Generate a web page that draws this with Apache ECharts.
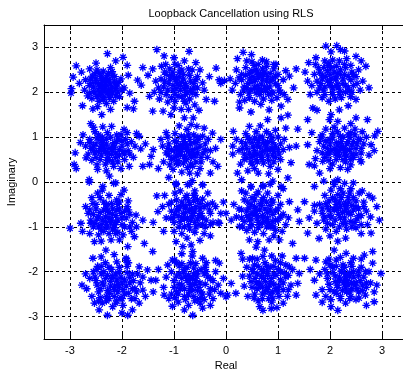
<!DOCTYPE html>
<html><head><meta charset="utf-8">
<script src="https://cdn.jsdelivr.net/npm/echarts@6/dist/echarts.min.js"></script>
<style>html,body{margin:0;padding:0;background:#fff}#c{width:403px;height:373px}</style>
</head><body><div id="c"></div>
<script>
var titleText = 'Loopback Cancellation using RLS';
var xName = 'Real';
var yName = 'Imaginary';
var xTicks = [-3,-2,-1,0,1,2,3];
var yTicks = [-3,-2,-1,0,1,2,3];

// Row 1 (Imag ~ +2.1)
var clA = [[-2.98,1.98],[-2.97,2.08],[-2.88,2.59],[-2.28,2.86],[-1.98,2.78],[-1.9,2.6],[-2.12,2.7],[-2.5,2.65],[-2.76,1.7],[-2.56,1.63],[-2.39,1.5],[-2.22,1.62],[-1.9,1.66],[-1.78,1.63],[-1.76,1.8],[-1.63,2.16],[-1.6,2.55],[-1.7,2.27],[-2.94,2.34],[-2.78,2.45],
[-2.6,2.3],[-2.52,2.41],[-2.45,2.18],[-2.38,2.05],[-2.31,2.22],[-2.25,1.95],[-2.2,2.12],[-2.14,2.35],[-2.08,2.01],[-2.35,1.88],[-2.42,1.95],[-2.55,2.02],[-2.63,2.15],[-2.7,2.28],[-2.66,1.92],[-2.48,2.5],[-2.36,2.47],[-2.28,2.38],[-2.19,2.46],[-2.1,2.2],[-2.02,2.3],[-1.96,2.1],[-2.05,1.9],[-2.16,1.8],[-2.3,1.75],[-2.44,1.8],[-2.58,1.86],[-2.72,2.05],[-2.4,2.3],[-2.33,2.13],[-2.26,2.04],[-2.5,2.22],[-2.57,2.36],[-2.12,2.08],[-1.88,2.38],[-1.85,1.98],[-2.22,2.55],[-2.62,2.52],[-2.82,2.2],[-2.47,1.68],
[-2.42,2.12],[-2.35,2.25],[-2.28,2.0],[-2.22,2.18],[-2.18,1.98],[-2.38,1.98],[-2.46,2.05],[-2.4,2.36],[-2.32,2.3],[-2.25,2.28],[-2.15,2.25],[-2.1,2.12],[-2.2,2.05],[-2.3,2.15],[-2.5,2.3],[-2.55,2.12],[-2.48,1.9],[-2.36,1.85],[-2.12,1.92],[-2.06,2.22],[-2.6,2.2],[-2.44,2.42],[-2.26,2.42],[-2.18,2.38],[-2.33,2.05],[-2.52,1.98],[-2.62,1.98],[-2.0,2.05],[-2.24,1.88],[-2.4,2.18]];
var clB = [[-1.33,2.95],[-0.71,2.91],[-1.19,2.81],[-1.0,2.77],[-0.58,2.66],[-0.19,2.54],[-1.41,2.52],[-1.5,2.38],[-1.47,1.91],[-1.41,1.58],[-1.21,1.58],[-1.06,1.5],[-0.8,1.43],[-0.67,1.28],[-0.63,1.43],[-0.38,1.84],[-0.22,1.8],[-0.45,2.21],[-0.77,1.76],[-0.1,2.2],
[-1.25,2.3],[-1.18,2.45],[-1.1,2.2],[-1.02,2.05],[-0.95,2.32],[-0.88,2.15],[-0.82,2.4],[-0.75,2.0],[-0.68,2.25],[-0.62,2.1],[-0.55,2.35],[-1.15,1.95],[-1.3,2.1],[-1.35,2.25],[-1.08,2.52],[-0.92,2.6],[-0.85,1.9],[-0.98,1.8],[-1.12,1.78],[-0.7,1.85],[-0.58,1.95],[-0.5,2.5],[-0.9,2.45],[-1.05,2.38],[-1.2,2.12],[-0.78,2.2],[-0.96,2.08],[-0.65,2.5],[-0.42,2.05],[-1.28,1.85],[-1.0,1.65],[-0.86,1.62],[-0.72,1.62],[-1.38,2.0],[-0.32,2.35],[-0.6,1.72],[-1.16,2.62],[-0.8,2.7],[-1.24,2.58],[-0.52,1.6],
[-1.02,2.15],[-0.95,2.25],[-0.88,2.05],[-0.82,2.3],[-0.75,2.12],[-1.08,2.3],[-1.12,2.05],[-0.98,1.95],[-0.9,2.35],[-0.78,1.95],[-0.7,2.38],[-0.62,2.2],[-1.18,2.25],[-1.02,2.45],[-0.85,2.5],[-0.72,2.52],[-0.92,1.92],[-1.05,1.88],[-0.65,1.98],[-0.58,2.28],[-1.25,2.0],[-0.8,2.08],[-0.94,2.18],[-0.86,2.22],[-1.0,2.32],[-0.68,2.05],[-1.15,2.4],[-0.55,2.1],[-0.8,1.8],[-0.98,2.62]];
var clC = [[0.33,2.89],[0.49,2.84],[0.22,2.75],[-0.13,2.28],[-0.03,2.26],[0.08,2.3],[1.35,2.52],[1.22,2.36],[1.15,2.48],[0.96,2.62],[0.78,2.68],[1.19,1.84],[1.06,1.69],[0.83,1.61],[0.67,1.73],[0.48,1.56],[0.26,1.65],[0.26,1.78],[1.3,2.1],[0.12,2.05],
[0.3,2.4],[0.38,2.55],[0.42,2.2],[0.48,2.05],[0.52,2.35],[0.58,2.5],[0.6,2.15],[0.65,1.95],[0.7,2.3],[0.75,2.45],[0.8,2.1],[0.85,2.25],[0.9,1.98],[0.95,2.35],[1.0,2.15],[1.05,2.0],[0.35,2.12],[0.28,1.95],[0.45,1.88],[0.55,1.8],[0.72,1.85],[0.88,1.82],[0.62,2.62],[0.5,2.68],[0.4,2.7],[0.2,2.5],[0.18,2.2],[0.68,2.05],[0.56,2.28],[0.78,2.58],[1.1,2.28],[0.92,2.52],[0.45,2.42],[0.62,2.4],[0.82,1.95],[0.36,1.82],[1.12,1.95],[0.25,2.32],[0.98,1.88],[0.7,2.72],
[0.5,2.22],[0.55,2.1],[0.62,2.32],[0.68,2.18],[0.72,2.4],[0.78,2.25],[0.84,2.12],[0.9,2.3],[0.58,1.98],[0.46,2.3],[0.4,2.1],[0.38,2.38],[0.7,2.52],[0.85,2.42],[0.95,2.2],[1.0,2.4],[0.76,2.02],[0.62,2.05],[0.5,2.48],[0.3,2.28],[0.88,2.0],[0.66,2.4],[0.54,2.6],[0.44,1.98],[0.8,2.35],[0.6,2.45],[1.02,2.05],[0.74,2.12],[0.34,2.05],[0.92,2.62]];
var clD = [[1.92,3.03],[2.13,3.04],[2.28,2.92],[2.5,2.8],[2.69,2.58],[1.73,2.77],[1.59,2.66],[1.57,2.25],[1.67,1.65],[1.75,1.6],[2.02,1.5],[2.18,1.61],[2.5,1.84],[2.63,2.25],[2.4,1.9],[2.2,2.95],[2.02,2.9],[2.75,2.1],[1.52,2.45],[2.35,1.7],
[1.7,2.4],[1.78,2.55],[1.82,2.2],[1.88,2.05],[1.92,2.35],[1.96,2.6],[2.0,2.15],[2.05,1.95],[2.08,2.45],[2.12,2.3],[2.16,2.1],[2.2,2.5],[2.25,2.2],[2.3,2.0],[2.35,2.35],[2.4,2.6],[2.45,2.15],[2.5,2.35],[1.75,2.0],[1.85,1.88],[1.98,1.8],[2.1,1.85],[2.22,1.88],[1.65,2.15],[1.72,2.62],[1.9,2.7],[2.05,2.72],[2.18,2.7],[2.32,2.75],[2.55,2.5],[2.58,2.05],[2.38,2.02],[2.02,2.3],[1.95,2.48],[2.28,2.4],[1.85,2.38],[2.12,2.58],[2.42,2.45],[1.62,1.95],[2.6,2.7],
[1.95,2.25],[2.0,2.4],[2.05,2.1],[2.1,2.32],[2.15,2.18],[2.2,2.4],[2.25,2.3],[2.3,2.15],[1.9,2.12],[1.85,2.3],[1.8,2.45],[1.88,2.55],[2.02,2.55],[2.15,2.42],[2.3,2.55],[2.4,2.28],[2.35,2.1],[2.2,2.02],[2.05,2.0],[1.9,1.95],[2.45,2.4],[1.75,2.25],[2.0,2.22],[2.12,2.15],[2.28,2.62],[1.98,2.65],[2.42,2.0],[2.18,1.95],[1.8,2.1],[2.52,2.2]];

// Row 2 (Imag ~ +0.7)
var clE = [[-2.6,1.3],[-2.37,1.23],[-2.2,1.24],[-1.96,1.17],[-1.93,0.95],[-1.67,1.02],[-1.64,0.74],[-1.86,0.35],[-1.47,0.39],[-1.6,0.35],[-2.9,0.65],[-2.92,0.39],[-2.88,0.3],[-2.69,0.54],[-2.47,0.28],[-2.24,0.13],[-2.63,0.05],[-2.37,-0.1],[-2.12,-0.02],[-1.55,0.85],
[-2.7,0.8],[-2.62,0.95],[-2.55,0.7],[-2.5,0.85],[-2.45,1.05],[-2.4,0.6],[-2.35,0.78],[-2.3,0.95],[-2.25,0.5],[-2.2,0.72],[-2.15,0.88],[-2.1,1.05],[-2.05,0.6],[-2.0,0.8],[-1.95,0.5],[-1.88,0.7],[-1.82,0.9],[-2.58,0.48],[-2.48,0.38],[-2.32,0.4],[-2.16,0.35],[-2.02,0.3],[-2.28,1.1],[-2.52,1.12],[-2.75,1.05],[-2.8,0.88],[-2.12,0.55],[-2.38,0.88],[-2.27,0.64],[-1.78,0.55],[-1.75,0.8],[-1.72,1.08],[-2.65,0.62],[-2.42,0.75],[-2.08,0.98],[-1.9,1.1],[-2.3,0.25],[-2.55,1.22],[-2.18,0.45],[-1.98,0.68],
[-2.35,0.7],[-2.3,0.85],[-2.25,0.75],[-2.2,0.62],[-2.15,0.78],[-2.1,0.9],[-2.05,0.72],[-2.4,0.92],[-2.45,0.68],[-2.5,0.55],[-2.42,0.5],[-2.28,0.55],[-2.12,0.65],[-2.0,0.92],[-1.95,0.62],[-2.55,0.8],[-2.6,0.75],[-2.38,1.0],[-2.22,1.0],[-2.08,0.45],[-1.9,0.85],[-2.32,0.68],[-2.18,0.82],[-2.48,0.98],[-2.62,0.88],[-2.28,0.48],[-1.85,0.62],[-2.52,0.65],[-2.02,1.05],[-2.4,0.8]];
var clF = [[-1.44,0.57],[-1.4,0.72],[-1.22,0.8],[-0.96,-0.06],[-0.74,-0.06],[-0.45,-0.06],[-0.65,0.03],[-0.26,1.09],[-0.42,1.2],[-0.75,1.17],[-0.56,1.24],[-0.16,0.35],[-0.25,0.45],[-1.3,0.3],[-1.15,1.1],[-0.9,1.25],[-1.1,0.1],[-0.2,0.75],[-0.3,0.2],[-1.25,0.95],
[-1.15,0.65],[-1.1,0.85],[-1.05,0.5],[-1.0,0.7],[-0.95,0.9],[-0.92,0.4],[-0.88,0.6],[-0.84,0.78],[-0.8,1.0],[-0.76,0.5],[-0.72,0.68],[-0.68,0.85],[-0.64,0.35],[-0.6,0.58],[-0.56,0.75],[-0.52,0.95],[-0.48,0.45],[-0.44,0.65],[-0.4,0.85],[-0.36,0.55],[-1.02,0.28],[-0.85,0.22],[-0.7,0.2],[-0.55,0.18],[-1.12,1.0],[-0.98,1.08],[-0.62,1.05],[-0.45,1.02],[-0.34,0.95],[-1.2,0.45],[-0.78,0.85],[-0.9,0.72],[-0.66,0.55],[-0.82,0.42],[-0.5,0.3],[-0.3,0.7],[-1.08,0.38],[-0.58,0.88],[-0.95,0.6],[-0.74,0.32],
[-0.9,0.65],[-0.85,0.72],[-0.8,0.58],[-0.75,0.8],[-0.7,0.62],[-0.65,0.72],[-0.6,0.9],[-0.95,0.78],[-1.0,0.55],[-0.92,0.48],[-0.82,0.9],[-0.7,0.95],[-0.55,0.65],[-0.5,0.8],[-0.58,0.45],[-0.68,0.4],[-0.88,0.82],[-1.05,0.72],[-1.1,0.6],[-0.78,0.52],[-0.62,0.62],[-0.48,0.55],[-0.98,0.92],[-0.86,1.02],[-0.72,1.05],[-0.4,0.72],[-1.12,0.75],[-0.76,0.72],[-0.54,1.0],[-0.95,0.42]];
var clG = [[0.14,1.13],[0.45,1.24],[0.8,1.39],[1.06,1.43],[1.19,1.49],[1.15,1.2],[1.38,1.18],[1.35,0.8],[1.22,0.77],[1.25,0.43],[1.19,0.09],[1.06,-0.1],[0.71,-0.08],[0.48,-0.11],[0.22,0.2],[0.13,0.8],[0.13,0.62],[-0.1,0.95],[0.3,0.05],[0.9,0.02],
[0.25,0.7],[0.3,0.9],[0.35,0.5],[0.4,0.75],[0.45,0.95],[0.5,0.4],[0.55,0.62],[0.6,0.82],[0.65,1.0],[0.7,0.5],[0.75,0.7],[0.8,0.9],[0.85,0.35],[0.9,0.6],[0.95,0.8],[1.0,1.0],[1.05,0.5],[1.1,0.72],[0.38,1.08],[0.58,1.12],[0.78,1.12],[0.95,1.15],[0.28,0.4],[0.42,0.25],[0.62,0.2],[0.82,0.18],[1.0,0.28],[1.12,0.95],[0.68,0.62],[0.52,0.78],[0.88,0.75],[0.72,0.88],[0.6,0.45],[0.35,0.62],[1.02,0.62],[0.2,0.95],[0.48,0.55],[0.92,0.45],[0.66,1.25],[0.55,0.3],
[0.55,0.7],[0.6,0.62],[0.65,0.78],[0.7,0.68],[0.75,0.85],[0.8,0.6],[0.85,0.72],[0.9,0.88],[0.5,0.88],[0.45,0.65],[0.4,0.55],[0.48,0.45],[0.58,0.5],[0.72,0.42],[0.82,0.48],[0.95,0.55],[1.0,0.72],[0.88,0.98],[0.7,1.0],[0.55,0.98],[0.38,0.85],[0.62,0.92],[0.78,0.78],[0.68,0.55],[1.05,0.85],[0.32,0.75],[0.92,0.68],[0.52,0.58],[0.85,1.05],[0.42,1.0]];
var clH = [[1.57,1.39],[1.57,0.83],[1.6,0.39],[1.7,0.36],[1.99,1.39],[2.15,1.35],[2.5,1.43],[2.72,1.39],[2.92,1.13],[2.86,1.03],[2.79,0.83],[2.6,0.45],[2.34,0.28],[2.15,0.05],[2.08,-0.06],[1.86,0.46],[1.65,1.1],[2.85,0.7],[1.8,0.2],[2.4,1.3],
[1.75,0.7],[1.8,0.9],[1.85,1.05],[1.9,0.55],[1.95,0.75],[2.0,0.95],[2.05,0.4],[2.1,0.62],[2.15,0.82],[2.2,1.02],[2.25,0.5],[2.3,0.7],[2.35,0.9],[2.4,1.1],[2.45,0.55],[2.5,0.75],[2.55,0.95],[2.6,0.65],[2.65,0.85],[1.92,1.18],[2.08,1.22],[2.28,1.2],[2.48,1.18],[2.62,1.12],[2.0,0.3],[2.2,0.32],[2.4,0.38],[2.7,1.0],[1.72,0.52],[2.12,0.72],[2.32,0.58],[2.22,0.9],[2.42,0.82],[1.98,0.62],[2.58,0.5],[2.75,0.6],[1.88,0.8],[2.18,0.58],[2.38,1.0],[2.05,1.08],
[2.08,0.75],[2.12,0.88],[2.18,0.7],[2.22,0.8],[2.28,0.62],[2.32,0.85],[2.38,0.72],[2.45,0.9],[2.0,0.85],[1.95,0.65],[1.92,0.92],[2.05,1.0],[2.25,1.0],[2.42,0.62],[2.5,0.62],[2.52,0.85],[2.3,0.45],[2.12,0.5],[1.98,0.48],[1.85,0.65],[2.6,0.75],[2.16,0.62],[2.35,1.05],[2.48,1.05],[2.02,0.7],[2.26,0.75],[1.82,1.0],[2.4,0.5],[2.58,0.95],[2.14,1.12]];

// Row 3 (Imag ~ -0.7)
var clI = [[-2.63,0.0],[-2.47,-0.25],[-2.38,-0.18],[-2.16,-0.03],[-1.96,-0.18],[-2.56,-0.48],[-2.79,-0.92],[-3.0,-1.03],[-2.76,-1.1],[-2.53,-1.33],[-2.31,-1.52],[-2.21,-1.29],[-2.05,-1.29],[-1.89,-1.44],[-1.92,-1.74],[-1.76,-1.22],[-1.57,-1.37],[-1.41,-1.55],[-1.6,-0.85],[-1.73,-0.74],
[-2.65,-0.7],[-2.6,-0.85],[-2.55,-1.0],[-2.5,-0.6],[-2.45,-0.78],[-2.4,-0.95],[-2.35,-1.1],[-2.3,-0.5],[-2.25,-0.68],[-2.2,-0.85],[-2.15,-1.02],[-2.1,-0.4],[-2.05,-0.6],[-2.0,-0.8],[-1.95,-1.0],[-1.9,-0.55],[-1.85,-0.72],[-1.8,-0.9],[-1.82,-1.1],[-2.42,-0.35],[-2.25,-0.3],[-2.02,-0.28],[-2.7,-0.55],[-2.45,-1.18],[-2.25,-1.15],[-2.08,-1.12],[-1.98,-1.18],[-2.35,-0.62],[-2.18,-0.72],[-2.32,-0.88],[-1.72,-1.0],[-2.58,-0.35],[-2.12,-0.9],[-2.28,-0.98],[-1.88,-0.42],[-2.52,-0.92],[-2.62,-1.15],[-2.4,-1.32],[-1.95,-0.65],[-2.08,-0.5],
[-2.32,-0.78],[-2.28,-0.65],[-2.22,-0.9],[-2.18,-0.6],[-2.12,-0.75],[-2.08,-0.85],[-2.02,-0.7],[-2.38,-0.85],[-2.42,-0.68],[-2.48,-0.82],[-2.4,-1.05],[-2.3,-1.0],[-2.15,-0.95],[-2.0,-0.95],[-1.92,-0.8],[-2.05,-0.45],[-2.2,-0.48],[-2.35,-0.45],[-2.5,-0.5],[-2.55,-0.72],[-1.88,-0.62],[-2.25,-0.8],[-2.1,-0.62],[-2.6,-0.92],[-2.45,-1.0],[-2.12,-1.15],[-1.85,-1.0],[-2.3,-0.58],[-2.62,-0.62],[-2.18,-1.05]];
var clJ = [[-1.33,-0.31],[-1.31,-0.66],[-0.96,-0.03],[-0.7,-0.05],[-0.45,-0.07],[-0.26,-0.47],[-1.06,-0.81],[-0.96,-1.33],[-0.83,-1.44],[-0.67,-1.4],[-0.64,-1.55],[-0.99,-1.74],[-0.75,-1.25],[-0.1,-0.7],[-0.15,-0.9],[-1.2,-1.1],[-0.3,-1.2],[-0.05,-0.45],[-1.4,-0.9],[-0.5,-1.3],
[-1.1,-0.5],[-1.05,-0.65],[-1.0,-0.9],[-0.95,-0.4],[-0.9,-0.6],[-0.85,-0.8],[-0.8,-1.0],[-0.75,-0.3],[-0.7,-0.5],[-0.65,-0.7],[-0.6,-0.9],[-0.55,-0.4],[-0.5,-0.6],[-0.45,-0.8],[-0.4,-1.0],[-0.35,-0.5],[-0.3,-0.7],[-0.25,-0.9],[-1.15,-0.8],[-1.0,-1.1],[-0.85,-1.15],[-0.6,-1.12],[-0.42,-1.15],[-0.88,-0.2],[-0.6,-0.2],[-0.35,-0.25],[-1.18,-0.3],[-0.78,-0.68],[-0.68,-0.85],[-0.52,-0.95],[-0.92,-0.75],[-0.58,-0.55],[-0.72,-0.42],[-0.2,-0.55],[-1.22,-0.55],[-0.98,-0.25],[-0.45,-0.38],[-0.82,-0.52],[-0.3,-0.95],[-0.62,-0.3],
[-0.82,-0.7],[-0.78,-0.58],[-0.74,-0.8],[-0.7,-0.62],[-0.65,-0.78],[-0.6,-0.65],[-0.55,-0.82],[-0.88,-0.88],[-0.92,-0.55],[-0.98,-0.72],[-0.85,-0.45],[-0.72,-0.95],[-0.58,-1.0],[-0.48,-0.7],[-0.42,-0.55],[-0.5,-0.48],[-0.62,-0.42],[-0.78,-0.35],[-1.02,-0.8],[-0.9,-1.0],[-0.38,-0.85],[-0.66,-0.6],[-0.8,-0.82],[-0.52,-0.75],[-1.05,-0.45],[-0.32,-0.62],[-0.7,-1.05],[-0.95,-0.62],[-0.45,-0.95],[-0.6,-0.3]];
var clK = [[0.48,-0.1],[0.71,-0.1],[0.85,-0.05],[1.22,-0.44],[1.41,-0.88],[1.38,-0.62],[-0.13,-0.92],[0.1,-0.85],[0.26,-0.99],[0.45,-1.29],[0.61,-1.33],[0.83,-1.29],[1.03,-1.29],[1.28,-1.37],[0.92,-1.2],[0.15,-0.5],[0.3,-0.2],[1.1,-0.15],[0.0,-0.7],[0.58,-1.45],
[0.25,-0.6],[0.3,-0.8],[0.35,-0.4],[0.4,-0.65],[0.45,-0.85],[0.5,-0.35],[0.55,-0.55],[0.6,-0.75],[0.65,-0.95],[0.7,-0.4],[0.75,-0.6],[0.8,-0.8],[0.85,-1.0],[0.9,-0.45],[0.95,-0.65],[1.0,-0.85],[1.05,-0.5],[1.1,-0.72],[1.15,-0.95],[0.4,-1.08],[0.55,-1.12],[0.72,-1.15],[0.95,-1.08],[0.38,-0.25],[0.62,-0.22],[0.8,-0.25],[1.0,-0.3],[0.58,-0.65],[0.68,-0.52],[0.72,-0.78],[0.85,-0.62],[0.48,-0.5],[0.2,-0.78],[1.2,-0.8],[0.9,-0.88],[0.32,-1.0],[0.62,-0.9],[0.78,-0.45],[1.08,-1.1],[0.5,-0.72],
[0.52,-0.7],[0.56,-0.6],[0.6,-0.82],[0.65,-0.62],[0.7,-0.75],[0.75,-0.88],[0.8,-0.68],[0.85,-0.52],[0.48,-0.82],[0.44,-0.58],[0.4,-0.75],[0.5,-0.95],[0.62,-1.02],[0.78,-1.0],[0.9,-0.72],[0.95,-0.85],[0.88,-0.4],[0.72,-0.35],[0.55,-0.4],[0.42,-0.45],[1.0,-0.6],[0.66,-0.48],[0.7,-0.9],[0.35,-0.88],[1.05,-0.78],[0.58,-0.28],[0.82,-0.92],[0.3,-0.62],[0.92,-1.0],[0.46,-1.0]];
var clL = [[1.7,-0.1],[2.08,0.0],[2.28,-0.03],[1.51,-0.44],[1.7,-0.52],[2.56,-0.25],[2.82,-0.36],[2.95,-0.85],[2.79,-1.14],[1.57,-1.14],[1.79,-1.26],[2.0,-1.2],[2.3,-1.25],[2.6,-1.15],[2.9,-0.55],[1.6,-0.8],[1.88,0.02],[2.45,-0.02],[2.72,-0.95],[2.15,-1.32],
[1.8,-0.5],[1.85,-0.7],[1.9,-0.3],[1.95,-0.55],[2.0,-0.75],[2.05,-0.95],[2.1,-0.4],[2.15,-0.6],[2.2,-0.8],[2.25,-0.25],[2.3,-0.48],[2.35,-0.68],[2.4,-0.88],[2.45,-0.35],[2.5,-0.55],[2.55,-0.75],[2.6,-0.95],[2.65,-0.45],[2.7,-0.65],[1.75,-0.92],[1.92,-1.05],[2.12,-1.1],[2.32,-1.05],[2.5,-1.02],[2.02,-0.18],[2.2,-0.15],[2.4,-0.15],[2.62,-0.2],[2.18,-0.45],[2.28,-0.65],[2.08,-0.62],[2.42,-0.52],[2.35,-0.35],[1.98,-0.42],[2.75,-0.3],[2.78,-0.78],[1.7,-0.65],[2.52,-0.82],[2.25,-0.92],[1.88,-0.85],
[2.08,-0.6],[2.12,-0.5],[2.16,-0.72],[2.2,-0.55],[2.24,-0.68],[2.28,-0.8],[2.32,-0.58],[2.36,-0.45],[2.02,-0.78],[1.98,-0.62],[1.92,-0.48],[2.05,-0.35],[2.22,-0.35],[2.4,-0.72],[2.45,-0.62],[2.5,-0.42],[2.55,-0.6],[2.48,-0.9],[2.3,-0.92],[2.1,-0.85],[1.9,-0.78],[2.6,-0.75],[2.15,-0.28],[2.38,-0.25],[2.28,-0.5],[1.95,-0.92],[2.65,-0.55],[2.42,-1.0],[1.85,-0.6],[2.18,-1.0]];

// Row 4 (Imag ~ -2.2)
var clM = [[-2.77,-2.3],[-2.68,-2.38],[-2.56,-1.7],[-2.4,-1.67],[-2.47,-1.88],[-1.92,-1.7],[-1.67,-1.89],[-1.51,-1.96],[-1.44,-2.19],[-1.6,-2.41],[-1.67,-2.7],[-1.89,-2.97],[-2.0,-2.92],[-2.28,-2.97],[-2.44,-2.85],[-2.53,-2.7],[-2.15,-1.62],[-1.55,-2.55],[-2.7,-2.05],[-1.8,-2.85],
[-2.55,-2.0],[-2.5,-2.2],[-2.45,-2.45],[-2.4,-2.05],[-2.35,-2.3],[-2.3,-2.55],[-2.25,-1.9],[-2.2,-2.15],[-2.15,-2.4],[-2.1,-2.65],[-2.05,-2.0],[-2.0,-2.25],[-1.95,-2.5],[-1.9,-1.88],[-1.85,-2.12],[-1.8,-2.38],[-1.75,-2.6],[-1.7,-2.05],[-1.65,-2.25],[-2.32,-1.8],[-2.1,-1.78],[-1.88,-1.8],[-2.58,-2.55],[-2.38,-2.7],[-2.18,-2.78],[-1.98,-2.75],[-1.8,-2.05],[-2.22,-2.32],[-2.08,-2.45],[-2.28,-2.08],[-1.92,-2.32],[-2.12,-2.05],[-2.42,-2.58],[-1.72,-2.45],[-2.62,-2.15],[-2.02,-2.58],[-2.25,-2.6],[-1.82,-2.6],[-2.48,-1.95],[-1.6,-2.12],
[-2.22,-2.22],[-2.18,-2.1],[-2.14,-2.32],[-2.1,-2.18],[-2.06,-2.35],[-2.02,-2.12],[-1.98,-2.4],[-2.28,-2.42],[-2.32,-2.15],[-2.38,-2.25],[-2.42,-2.38],[-2.35,-2.0],[-2.2,-1.95],[-2.05,-1.9],[-1.9,-2.02],[-1.85,-2.25],[-1.88,-2.48],[-2.0,-2.6],[-2.15,-2.55],[-2.3,-2.65],[-2.48,-2.3],[-2.24,-2.48],[-2.08,-2.28],[-1.78,-2.2],[-2.52,-2.12],[-1.95,-2.18],[-2.4,-1.88],[-2.12,-2.7],[-1.75,-2.38],[-2.45,-2.65]];
var clN = [[-1.35,-2.19],[-1.19,-2.52],[-1.03,-2.77],[-0.64,-2.97],[-0.45,-2.81],[-1.03,-1.74],[-0.9,-1.87],[-0.45,-1.7],[-0.13,-1.81],[0.0,-2.56],[-0.1,-2.48],[-0.05,-2.15],[-1.3,-1.95],[-0.8,-2.85],[-0.3,-2.75],[-1.2,-2.35],[-0.65,-1.65],[-0.2,-1.75],[-1.4,-2.45],[-0.85,-1.6],
[-1.05,-2.0],[-1.0,-2.2],[-0.95,-2.45],[-0.9,-2.05],[-0.85,-2.3],[-0.8,-2.55],[-0.75,-1.9],[-0.7,-2.15],[-0.65,-2.4],[-0.6,-2.65],[-0.55,-2.0],[-0.5,-2.25],[-0.45,-2.5],[-0.4,-1.9],[-0.35,-2.12],[-0.3,-2.38],[-0.25,-2.6],[-0.2,-2.0],[-0.15,-2.3],[-1.1,-2.6],[-0.92,-2.68],[-0.72,-2.75],[-0.5,-2.7],[-1.12,-1.85],[-0.95,-1.8],[-0.58,-1.82],[-0.38,-1.8],[-0.68,-2.28],[-0.78,-2.1],[-0.55,-2.42],[-0.42,-2.05],[-0.62,-2.05],[-0.88,-2.38],[-0.32,-2.5],[-1.15,-2.12],[-0.48,-2.58],[-0.98,-2.58],[-0.25,-2.2],[-0.72,-2.52],[-0.82,-2.0],
[-0.75,-2.2],[-0.72,-2.08],[-0.68,-2.32],[-0.64,-2.15],[-0.6,-2.28],[-0.56,-2.1],[-0.52,-2.35],[-0.8,-2.38],[-0.85,-2.15],[-0.9,-2.28],[-0.92,-2.5],[-0.78,-2.62],[-0.62,-2.55],[-0.48,-2.45],[-0.4,-2.28],[-0.38,-2.0],[-0.48,-1.95],[-0.62,-1.92],[-0.8,-1.95],[-0.95,-2.1],[-0.3,-2.15],[-0.7,-2.42],[-0.55,-2.62],[-0.42,-2.62],[-1.0,-2.35],[-0.58,-2.2],[-0.85,-1.82],[-0.22,-2.4],[-0.68,-1.8],[-1.05,-2.5]];
var clO = [[0.29,-1.59],[0.32,-1.72],[0.51,-1.7],[0.74,-1.52],[0.71,-1.66],[1.35,-1.7],[1.51,-1.7],[1.22,-1.89],[1.41,-2.04],[1.38,-2.26],[1.35,-2.52],[0.9,-2.59],[0.87,-2.82],[0.71,-2.86],[0.54,-2.59],[0.1,-2.26],[0.19,-2.48],[0.03,-2.52],[0.32,-2.1],[1.1,-2.7],
[0.4,-1.9],[0.45,-2.1],[0.5,-2.35],[0.55,-1.85],[0.6,-2.05],[0.65,-2.3],[0.7,-2.5],[0.75,-1.8],[0.8,-2.0],[0.85,-2.22],[0.9,-2.45],[0.95,-1.75],[1.0,-1.95],[1.05,-2.18],[1.1,-2.4],[1.15,-1.85],[1.2,-2.08],[1.25,-2.3],[0.42,-2.55],[0.62,-2.65],[0.82,-2.6],[1.02,-2.55],[1.18,-2.55],[0.45,-1.72],[0.88,-1.65],[1.08,-1.65],[0.72,-2.15],[0.78,-2.35],[0.92,-2.05],[0.68,-1.95],[0.58,-2.25],[1.02,-2.32],[0.35,-2.32],[0.98,-2.8],[0.52,-2.0],[1.12,-2.02],[0.85,-1.9],[0.65,-2.78],[1.28,-1.95],[0.75,-2.45],
[0.68,-2.1],[0.72,-2.0],[0.76,-2.22],[0.8,-2.08],[0.84,-2.3],[0.88,-2.15],[0.92,-2.28],[0.96,-2.08],[0.64,-2.25],[0.6,-2.38],[0.56,-2.15],[0.62,-1.88],[0.78,-1.88],[0.92,-1.88],[1.05,-2.0],[1.1,-2.25],[1.0,-2.45],[0.85,-2.5],[0.7,-2.6],[0.55,-2.5],[0.48,-2.22],[0.8,-2.4],[0.96,-2.38],[0.7,-2.35],[1.15,-2.12],[0.5,-1.95],[1.05,-1.8],[0.88,-2.68],[0.6,-1.72],[1.2,-2.4]];
var clP = [[1.73,-1.74],[1.92,-1.78],[2.12,-1.74],[2.08,-1.52],[2.31,-1.59],[2.66,-1.63],[2.82,-1.55],[2.82,-1.81],[2.98,-2.04],[2.85,-2.67],[2.56,-2.59],[2.4,-2.55],[2.15,-2.86],[2.02,-2.78],[1.73,-2.52],[1.7,-2.19],[1.85,-2.68],[2.7,-2.75],[2.9,-2.3],[1.62,-1.95],
[1.9,-1.95],[1.95,-2.15],[2.0,-2.4],[2.05,-1.9],[2.1,-2.1],[2.15,-2.35],[2.2,-2.6],[2.25,-1.85],[2.3,-2.05],[2.35,-2.3],[2.4,-1.8],[2.45,-2.0],[2.5,-2.25],[2.55,-2.45],[2.6,-1.9],[2.65,-2.12],[2.7,-2.35],[2.75,-2.0],[1.85,-2.4],[2.02,-2.62],[2.3,-2.7],[2.5,-2.62],[2.68,-2.52],[1.98,-1.72],[2.2,-1.68],[2.45,-1.7],[2.6,-1.72],[2.28,-2.18],[2.38,-2.1],[2.18,-2.2],[2.42,-2.38],[2.55,-2.08],[1.8,-2.05],[2.78,-2.25],[2.12,-2.48],[2.32,-2.45],[2.62,-2.3],[1.92,-2.55],[2.85,-2.45],[2.22,-1.98],
[2.18,-2.12],[2.22,-2.0],[2.26,-2.25],[2.3,-2.12],[2.34,-2.2],[2.38,-2.02],[2.42,-2.25],[2.46,-2.12],[2.14,-2.3],[2.1,-2.22],[2.06,-2.02],[2.12,-1.88],[2.28,-1.9],[2.42,-1.88],[2.55,-1.98],[2.58,-2.2],[2.52,-2.38],[2.38,-2.45],[2.24,-2.42],[2.08,-2.45],[1.98,-2.28],[2.3,-2.32],[2.48,-2.3],[2.2,-2.55],[2.62,-2.42],[1.95,-2.05],[2.68,-2.0],[2.38,-2.6],[2.0,-1.85],[2.7,-2.25]];

var allPoints = [].concat(clA, clB, clC, clD, clE, clF, clG, clH, clI, clJ, clK, clL, clM, clN, clO, clP);

var FONT = '"Liberation Sans", Arial, Helvetica, sans-serif';
var chart = echarts.init(document.getElementById('c'), null, {renderer: 'canvas'});

function mkAxis(pos, showLabel, name, isY) {
  return {
    type: 'value', position: pos, min: -3.5, max: 3.5, splitNumber: 7,
    name: showLabel ? name : '',
    nameLocation: 'middle',
    nameGap: isY ? 21 : 18,
    nameTextStyle: {color: '#000', fontSize: 11, fontFamily: FONT},
    axisLine: {show: true, onZero: false, lineStyle: {color: '#000', width: 1}},
    axisTick: {show: true, inside: true, length: 5, lineStyle: {color: '#000'}},
    axisLabel: {show: showLabel, color: '#000', fontSize: 11, fontFamily: FONT, margin: 6,
      showMinLabel: false, showMaxLabel: false, hideOverlap: false,
      formatter: function (v) { var t = isY ? yTicks : xTicks; return t.indexOf(v) >= 0 ? String(v) : ''; }},
    splitLine: {show: showLabel, lineStyle: {color: '#000', width: 1, type: [3, 3]}}
  };
}

chart.setOption({
  animation: false,
  backgroundColor: '#fff',
  title: {text: titleText, left: 226, textAlign: 'center', top: 3,
    textStyle: {color: '#000', fontSize: 11, fontWeight: 'normal', fontFamily: FONT}},
  grid: {left: 44, top: 25, width: 364, height: 314, containLabel: false, outerBoundsMode: 'none'},
  xAxis: [mkAxis('bottom', true, xName, false), mkAxis('top', false, '', false)],
  yAxis: [mkAxis('left', true, yName, true), mkAxis('right', false, '', true)],
  series: [{
    type: 'scatter',
    xAxisIndex: 0, yAxisIndex: 0,
    data: allPoints,
    symbol: 'path://M5,0 L5,10 M0,5 L10,5 M1.6,1.6 L8.4,8.4 M1.6,8.4 L8.4,1.6',
    symbolSize: 8,
    itemStyle: {color: '#0000ff', borderColor: '#0000ff', borderWidth: 1.3, opacity: 1},
    emphasis: {disabled: true},
    silent: true
  }]
});
</script>
</body></html>
